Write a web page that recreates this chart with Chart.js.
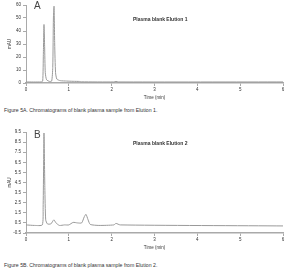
<!DOCTYPE html>
<html>
<head>
<meta charset="utf-8">
<script src="https://cdn.jsdelivr.net/npm/chart.js@4"></script>
<style>
  body { margin: 0; width: 288px; height: 273px; background: #fff; position: relative; overflow: hidden; font-family: 'Liberation Sans', Arial, sans-serif; }
  .box { position: absolute; left: 0; width: 288px; }
  .txt { position: absolute; color: #333; white-space: nowrap; }
  .big { font-size: 10px; color: #444; }
  .lbl { font-size: 5px; font-weight: bold; color: #333; }
  .cap { font-size: 5.2px; color: #333; }
</style>
</head>
<body>
<div class="box" style="top:0;height:100px"><canvas id="chartA"></canvas></div>
<div class="box" style="top:125px;height:125px"><canvas id="chartB"></canvas></div>
<div class="txt big" style="left:34px;top:0px">A</div>
<div class="txt lbl" style="left:133px;top:16px">Plasma blank Elution 1</div>
<div class="txt cap" style="left:4px;top:107px">Figure 5A. Chromatograms of blank plasma sample from Elution 1.</div>
<div class="txt big" style="left:34px;top:129px">B</div>
<div class="txt lbl" style="left:133px;top:140px">Plasma blank Elution 2</div>
<div class="txt cap" style="left:4px;top:262px">Figure 5B. Chromatograms of blank plasma sample from Elution 2.</div>
<script>
// Elution 1 trace (time in min, signal in mAU)
const timeA = [0, 0.35, 0.39, 0.405, 0.42, 0.435, 0.45, 0.48, 0.55, 0.6, 0.625, 0.64, 0.655, 0.67, 0.69, 0.72, 0.8, 0.95, 1.1, 1.25, 1.3, 2.05, 2.1, 2.15, 6];
const signalA = [0.8, 0.8, 1.5, 22, 45, 28, 8, 2.5, 1.2, 1.5, 12, 50, 59, 30, 8, 3, 1.8, 1.5, 1.3, 1.2, 0.9, 0.8, 1.2, 0.8, 0.8];

// Elution 2 trace
const timeB = [0, 0.2, 0.38, 0.4, 0.42, 0.44, 0.46, 0.5, 0.58, 0.65, 0.7, 0.78, 0.9, 1.0, 1.1, 1.2, 1.3, 1.36, 1.4, 1.45, 1.5, 1.7, 2.05, 2.1, 2.2, 6];
const signalB = [0.3, 0.25, 0.3, 2, 9.4, 4, 0.8, 0.4, 0.4, 0.8, 0.5, 0.25, 0.3, 0.3, 0.55, 0.5, 0.5, 1.1, 1.35, 0.8, 0.35, 0.25, 0.3, 0.45, 0.3, 0.2];

const xTicks = [0, 1, 2, 3, 4, 5, 6];
const yTicksA = [0, 10, 20, 30, 40, 50, 60];
const yTicksB = [-0.5, 0.5, 1.5, 2.5, 3.5, 4.5, 5.5, 6.5, 7.5, 8.5, 9.5];

const tickFont = { family: 'Liberation Sans', size: 4.5 };
const gray = '#aaa';

function makeChart(id, xs, ys, yTicks, yMin, yMax, pad) {
  const pts = xs.map((x, i) => ({ x: x, y: ys[i] }));
  return new Chart(document.getElementById(id), {
    type: 'line',
    data: { datasets: [{ data: pts, borderColor: '#999', borderWidth: 1, pointRadius: 0, tension: 0.2 }] },
    options: {
      responsive: true,
      maintainAspectRatio: false,
      animation: false,
      layout: { padding: pad },
      plugins: { legend: { display: false }, tooltip: { enabled: false } },
      scales: {
        x: {
          type: 'linear', min: 0, max: 6,
          afterBuildTicks: (s) => { s.ticks = xTicks.map(v => ({ value: v })); },
          afterFit: (s) => { s.height = 17; },
          grid: { drawOnChartArea: false, tickLength: 3, color: gray },
          border: { color: gray, width: 1.5 },
          ticks: { font: tickFont, color: '#333', padding: 1 },
          title: { display: true, text: 'Time (min)', font: tickFont, color: '#333', padding: 0 }
        },
        y: {
          type: 'linear', min: yMin, max: yMax,
          afterBuildTicks: (s) => { s.ticks = yTicks.map(v => ({ value: v })); },
          afterFit: (s) => { s.width = 19; },
          grid: { drawOnChartArea: false, tickLength: 3, color: gray },
          border: { color: gray, width: 1 },
          ticks: { font: tickFont, color: '#333', padding: 2 },
          title: { display: true, text: 'mAU', font: tickFont, color: '#333', padding: { top: 0, bottom: 0 } }
        }
      }
    }
  });
}

makeChart('chartA', timeA, signalA, yTicksA, 0, 60, { top: 5, right: 5, left: 7, bottom: 0 });
makeChart('chartB', timeB, signalB, yTicksB, -0.5, 9.5, { top: 7, right: 5, left: 7, bottom: 0 });
</script>
</body>
</html>
